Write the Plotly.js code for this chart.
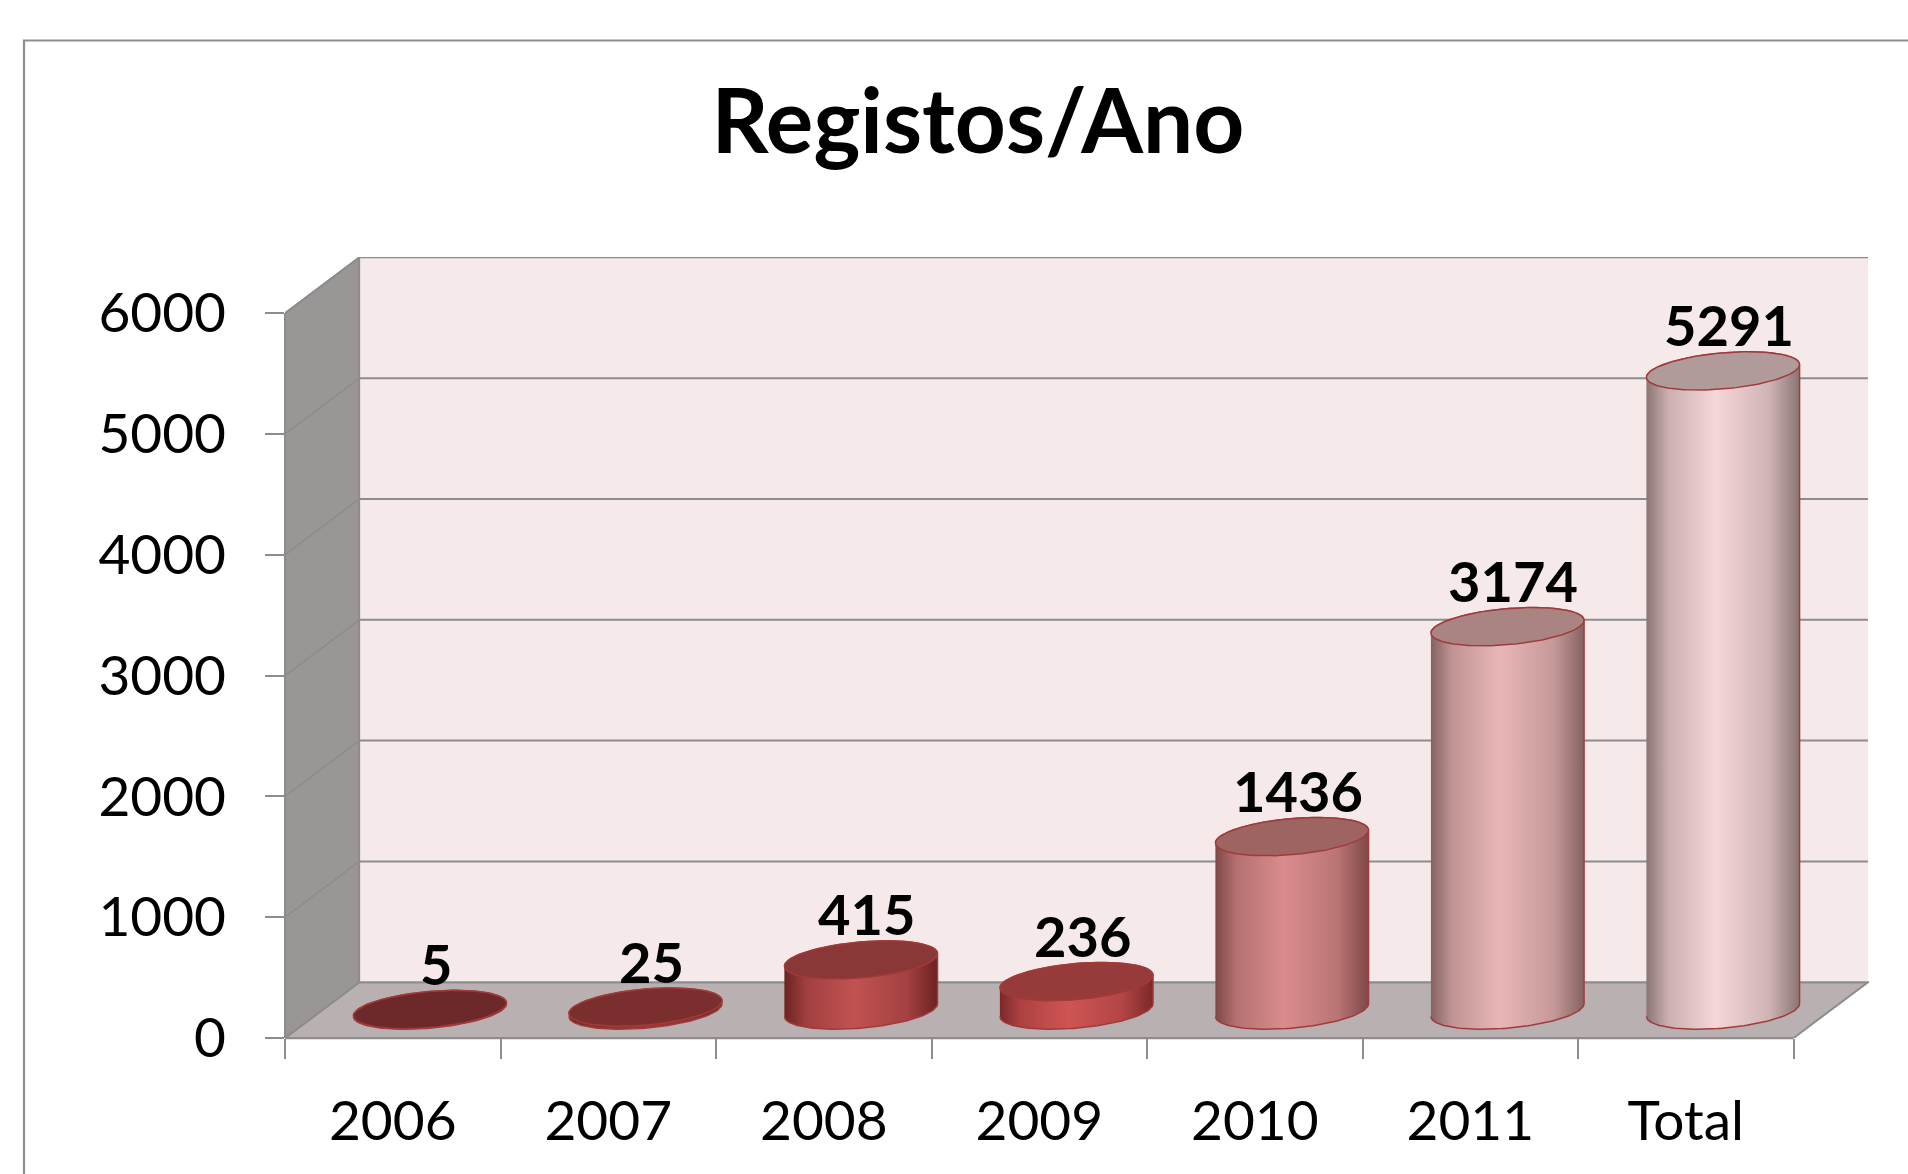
<!DOCTYPE html>
<html>
<head>
<meta charset="utf-8">
<script src="https://cdn.plot.ly/plotly-3.0.1.min.js"></script>
<style>
  html, body { margin: 0; padding: 0; background: #ffffff; }
  #chart { width: 1908px; height: 1174px; }
</style>
</head>
<body>
<div id="chart"></div>
<script>
// ---------------- data ----------------
const categories = ['2006', '2007', '2008', '2009', '2010', '2011', 'Total'];
const values = [5, 25, 415, 236, 1436, 3174, 5291];
const yTickValues = [0, 1000, 2000, 3000, 4000, 5000, 6000];
const chartTitle = 'Registos/Ano';

// ---------------- styles ----------------
const bodyDark  = ['#5c2020', '#682424', '#6c2222', '#7c2828', '#7e4848', '#866262', '#8a7474'];
const bodyLight = ['#8c3232', '#9c3838', '#c25252', '#cf5454', '#da8c8c', '#e9b6b6', '#f6d6d8'];
const topColor  = ['#6d2929', '#7a2e2e', '#893737', '#963b39', '#9d6461', '#a98483', '#b09a9a'];
const outline = '#a23a3a';
const gridColor = '#8c8c8c';
const floorColor = '#b9b1b1';
const sideColor = '#9b9696';
const backColor = '#f5e9e9';

// ---------------- layout geometry ----------------
const W = 1908, H = 1174;
const M = { l: 285, r: 39, t: 257, b: 136 };
const X_RANGE = [-0.5, 6.85];
const Y_RANGE = [0, 6465];
const DX = 0.345;   // full depth of the 3-D box, x-axis units
const DY = 462;     // full depth of the 3-D box, y-axis units
const RX = 0.335;   // cylinder radius, x-axis units
const RD = 0.343;   // cylinder radius as a fraction of the box depth

const plotW = W - M.l - M.r, plotH = H - M.t - M.b;
const pxX = p => (p - M.l) / plotW;            // page px -> paper x
const pxY = p => (H - M.b - p) / plotH;        // page px -> paper y

const xLeft = -0.5, xRight = categories.length - 0.5;
const yTop = yTickValues[yTickValues.length - 1];

// ---------------- walls, floor, grid ----------------
const shapes = [];
const P = (x, y) => x + ',' + y;
// floor
shapes.push({ type: 'path', layer: 'below', xref: 'x', yref: 'y',
  path: 'M' + P(xLeft, 0) + 'L' + P(xRight, 0) + 'L' + P(xRight + DX, DY) + 'L' + P(xLeft + DX, DY) + 'Z',
  fillcolor: floorColor, line: { color: gridColor, width: 2 } });
// side wall
shapes.push({ type: 'path', layer: 'below', xref: 'x', yref: 'y',
  path: 'M' + P(xLeft, 0) + 'L' + P(xLeft, yTop) + 'L' + P(xLeft + DX, yTop + DY) + 'L' + P(xLeft + DX, DY) + 'Z',
  fillcolor: sideColor, line: { color: gridColor, width: 2 } });
// back wall
shapes.push({ type: 'rect', layer: 'below', xref: 'x', yref: 'y',
  x0: xLeft + DX, x1: xRight + DX, y0: DY, y1: yTop + DY,
  fillcolor: backColor, line: { width: 0 } });
// gridlines on back wall and side wall
yTickValues.forEach(v => {
  shapes.push({ type: 'line', layer: 'below', xref: 'x', yref: 'y',
    x0: xLeft + DX, x1: xRight + DX, y0: v + DY, y1: v + DY,
    line: { color: gridColor, width: 2 } });
  if (v > 0) {
    shapes.push({ type: 'line', layer: 'below', xref: 'x', yref: 'y',
      x0: xLeft, x1: xLeft + DX, y0: v, y1: v + DY,
      line: { color: gridColor, width: 1.6 } });
  }
});
// back wall left edge
shapes.push({ type: 'line', layer: 'below', xref: 'x', yref: 'y',
  x0: xLeft + DX, x1: xLeft + DX, y0: DY, y1: yTop + DY, line: { color: gridColor, width: 1.6 } });
// front vertical axis line
shapes.push({ type: 'line', layer: 'below', xref: 'paper', yref: 'y',
  x0: 0, x1: 0, y0: 0, y1: yTop, line: { color: gridColor, width: 2 } });
// front floor edge
shapes.push({ type: 'line', layer: 'below', xref: 'x', yref: 'paper',
  x0: xLeft, x1: xRight, y0: 0, y1: 0, line: { color: gridColor, width: 2.5 } });
// outer chart frame (top and left)
shapes.push({ type: 'path', xref: 'paper', yref: 'paper',
  path: 'M' + P(pxX(24), pxY(H + 5)) + 'L' + P(pxX(24), pxY(40.5)) + 'L' + P(pxX(W + 5), pxY(40.5)),
  line: { color: '#8e8e8e', width: 2.2 } });

// ---------------- cylinders ----------------
function arc(xc, yc, t0, t1, n) {
  const xs = [], ys = [];
  for (let k = 0; k <= n; k++) {
    const t = t0 + (t1 - t0) * k / n;
    xs.push(xc + RX * Math.cos(t) + RD * DX * Math.sin(t));
    ys.push(yc + RD * DY * Math.sin(t));
  }
  return [xs, ys];
}
function mix(a, b, f) {
  const pa = [1, 3, 5].map(i => parseInt(a.substr(i, 2), 16));
  const pb = [1, 3, 5].map(i => parseInt(b.substr(i, 2), 16));
  return 'rgb(' + pa.map((c, i) => Math.round(c + (pb[i] - c) * f)).join(',') + ')';
}

const tR = Math.atan2(RD * DX, RX);   // silhouette angle
const traces = [];
values.forEach((v, i) => {
  const xc = i + DX / 2;
  const yb = DY / 2, yt = v + DY / 2;
  const bot = arc(xc, yb, tR + Math.PI, tR + 2 * Math.PI, 80);
  const top = arc(xc, yt, tR, tR + Math.PI, 80);
  const dark = bodyDark[i], light = bodyLight[i];
  traces.push({
    type: 'scatter', mode: 'lines', hoverinfo: 'skip', showlegend: false,
    x: bot[0].concat(top[0]), y: bot[1].concat(top[1]),
    fill: 'toself',
    fillgradient: { type: 'horizontal', colorscale: [
      [0, dark], [0.14, mix(dark, light, 0.6)], [0.45, light], [0.8, mix(dark, light, 0.65)], [1, dark]] },
    line: { color: outline, width: 1.5 }
  });
  const cap = arc(xc, yt, 0, 2 * Math.PI, 160);
  traces.push({
    type: 'scatter', mode: 'lines', hoverinfo: 'skip', showlegend: false,
    x: cap[0], y: cap[1], fill: 'toself', fillcolor: topColor[i],
    line: { color: outline, width: 1.5 }
  });
});

// ---------------- value labels ----------------
const annotations = values.map((v, i) => ({
  x: i + DX / 2, y: v + DY / 2, xref: 'x', yref: 'y',
  text: String(v), showarrow: false, xshift: 6, yshift: 46,
  font: { family: 'Lato', size: 56, weight: 700, color: '#000000' }
}));

const layout = {
  width: W, height: H,
  margin: M,
  paper_bgcolor: '#ffffff', plot_bgcolor: 'rgba(0,0,0,0)',
  font: { family: 'Lato', color: '#000000' },
  showlegend: false,
  title: {
    text: chartTitle, xref: 'container', yref: 'container',
    x: 978 / W, xanchor: 'center', y: 1 - 122 / H, yanchor: 'middle',
    font: { family: 'Lato', size: 89, weight: 700, color: '#000000' }
  },
  xaxis: {
    range: X_RANGE, fixedrange: true, automargin: false,
    tickmode: 'array', tickvals: categories.map((c, i) => i), ticktext: categories,
    ticks: '', showgrid: false, zeroline: false, showline: false,
    tickfont: { family: 'Lato', size: 55, color: '#000000' },
    ticklabelstandoff: 46,
    minor: { tickmode: 'linear', tick0: -0.5, dtick: 1, ticks: 'outside', ticklen: 20, tickwidth: 2, tickcolor: gridColor, showgrid: false }
  },
  yaxis: {
    range: Y_RANGE, fixedrange: true, automargin: false,
    tickmode: 'array', tickvals: yTickValues, ticktext: yTickValues.map(String),
    ticks: 'outside', ticklen: 19, tickwidth: 2, tickcolor: gridColor,
    showgrid: false, zeroline: false, showline: false,
    tickfont: { family: 'Lato', size: 55, color: '#000000' },
    ticklabelstandoff: 28
  },
  shapes: shapes,
  annotations: annotations
};

Plotly.newPlot('chart', traces, layout, { displayModeBar: false, staticPlot: true });
</script>
</body>
</html>
